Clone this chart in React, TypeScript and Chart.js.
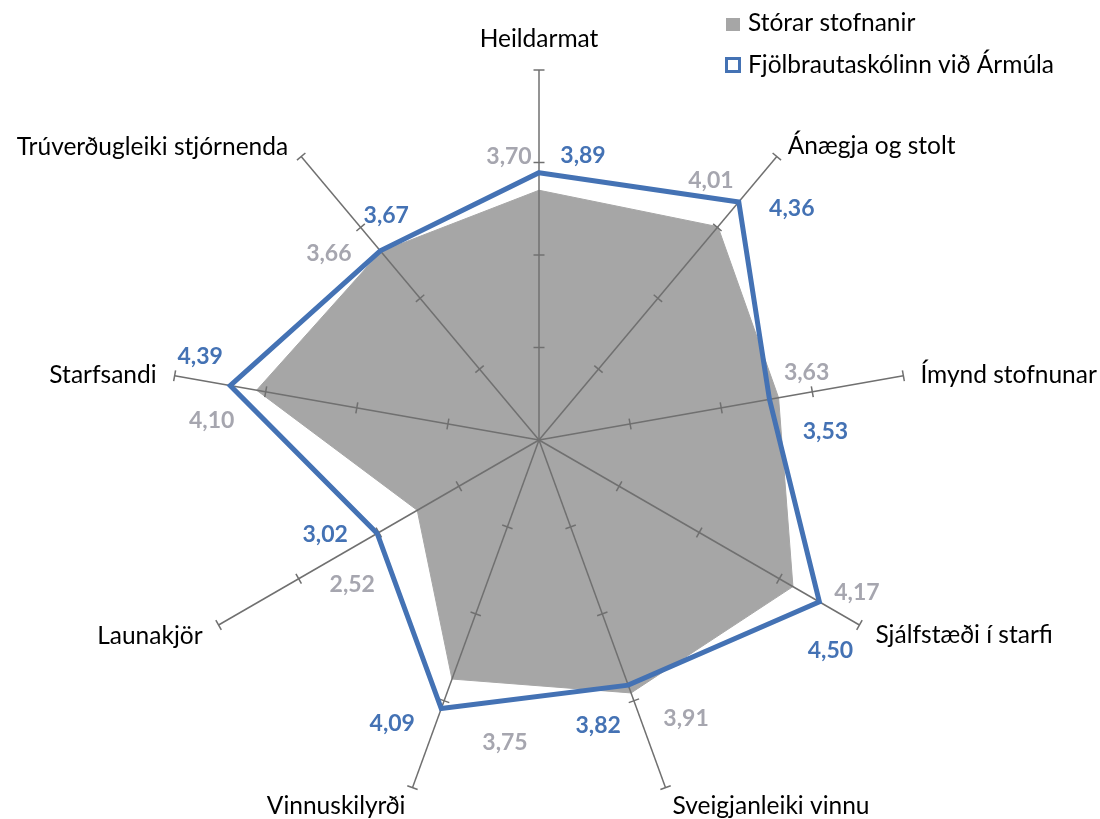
import React, { useEffect, useRef } from 'react';
import { Chart, registerables } from 'chart.js';

Chart.register(...registerables);

// ---- data ----
const categories = [
  'Heildarmat',
  'Ánægja og stolt',
  'Ímynd stofnunar',
  'Sjálfstæði í starfi',
  'Sveigjanleiki vinnu',
  'Vinnuskilyrði',
  'Launakjör',
  'Starfsandi',
  'Trúverðugleiki stjórnenda',
];
const seriesNames = ['Stórar stofnanir', 'Fjölbrautaskólinn við Ármúla'];
const storarValues = [3.7, 4.01, 3.63, 4.17, 3.91, 3.75, 2.52, 4.1, 3.66];
const faValues = [3.89, 4.36, 3.53, 4.5, 3.82, 4.09, 3.02, 4.39, 3.67];
const scaleMin = 1;
const scaleMax = 5;
const scaleStep = 1;

// ---- styles ----
const GREY = '#A6A6A6';
const GREY_TEXT = '#A6A6AF';
const BLUE = '#4472B4';
const AXIS = '#707070';
const FONT_FAMILY = 'Lato, "Open Sans", sans-serif';
const VALUE_SIZE = 23;
const VALUE_WEIGHT = 'bold';
const CAT_SIZE = 24.5;

// label centre offsets relative to each data point
const greyLabelOffsets: [number, number][] = [
  [-30, -35], [-7, -47], [28, -26], [64, 5], [55, 25], [53, 63], [-65, 73], [-45, 30], [-52, 1],
];
const blueLabelOffsets: [number, number][] = [
  [44, -18], [53, 6], [56, 31], [11, 48], [-30, 40], [-49, 14], [-52, 0], [-30, -30], [6, -36],
];
// category label: [align, dx, baseline dy] relative to axis end
const catLabelPlacement: [CanvasTextAlign, number, number][] = [
  ['center', 0, -23],
  ['left', 11, -3],
  ['left', 17, 7],
  ['left', 16, 18],
  ['left', 7, 26],
  ['right', -7, 26],
  ['right', -16, 19],
  ['right', -18, 7],
  ['right', -13, -2],
];

function fmt(v: number) {
  return v.toFixed(2).replace('.', ',');
}

function drawAxes(chart: any) {
  const scale = chart.scales.r;
  const ctx: CanvasRenderingContext2D = chart.ctx;
  ctx.save();
  ctx.strokeStyle = AXIS;
  ctx.lineWidth = 1.5;
  ctx.lineCap = 'butt';
  for (let i = 0; i < categories.length; i++) {
    const c = scale.getPointPositionForValue(i, scaleMin);
    const e = scale.getPointPositionForValue(i, scaleMax);
    ctx.beginPath();
    ctx.moveTo(c.x, c.y);
    ctx.lineTo(e.x, e.y);
    ctx.stroke();
    const a = scale.getIndexAngle(i) - Math.PI / 2;
    const px = -Math.sin(a);
    const py = Math.cos(a);
    for (let v = scaleMin + scaleStep; v <= scaleMax + 1e-9; v += scaleStep) {
      const p = scale.getPointPositionForValue(i, v);
      const h = 5.5;
      ctx.beginPath();
      ctx.moveTo(p.x - px * h, p.y - py * h);
      ctx.lineTo(p.x + px * h, p.y + py * h);
      ctx.stroke();
    }
  }
  ctx.restore();
}

const decor = {
  id: 'radarDecor',
  beforeDatasetDraw(chart: any, args: any) {
    if (args.index === 1) drawAxes(chart);
  },
  afterDatasetsDraw(chart: any) {
    const ctx: CanvasRenderingContext2D = chart.ctx;
    const scale = chart.scales.r;
    ctx.save();
    // value labels
    ctx.font = `${VALUE_WEIGHT} ${VALUE_SIZE}px ${FONT_FAMILY}`;
    ctx.textAlign = 'center';
    ctx.textBaseline = 'alphabetic';
    const capHalf = VALUE_SIZE * 0.72 / 2;
    const sets: [number, string, [number, number][], number[]][] = [
      [0, GREY_TEXT, greyLabelOffsets, storarValues],
      [1, BLUE, blueLabelOffsets, faValues],
    ];
    for (const [di, color, offs, vals] of sets) {
      const meta = chart.getDatasetMeta(di);
      ctx.fillStyle = color;
      meta.data.forEach((el: any, i: number) => {
        ctx.fillText(fmt(vals[i]), el.x + offs[i][0], el.y + offs[i][1] + capHalf);
      });
    }
    // category labels
    ctx.font = `${CAT_SIZE}px ${FONT_FAMILY}`;
    ctx.fillStyle = '#000';
    categories.forEach((lab, i) => {
      const e = scale.getPointPositionForValue(i, scaleMax);
      const [align, dx, dy] = catLabelPlacement[i];
      ctx.textAlign = align;
      ctx.fillText(lab, e.x + dx, e.y + dy);
    });
    // legend
    ctx.textAlign = 'left';
    ctx.fillStyle = GREY;
    ctx.fillRect(726, 18, 14, 13);
    ctx.strokeStyle = BLUE;
    ctx.lineWidth = 3;
    ctx.strokeRect(726.5, 58.5, 13, 13);
    ctx.fillStyle = '#000';
    ctx.fillText(chart.data.datasets[0].label, 748, 31);
    ctx.fillText(chart.data.datasets[1].label, 748, 73);
    ctx.restore();
  },
};

export default function App() {
  const ref = useRef<HTMLCanvasElement>(null);
  useEffect(() => {
    const chart = new Chart(ref.current as HTMLCanvasElement, {
      type: 'radar',
      data: {
        labels: categories,
        datasets: [
          {
            label: seriesNames[0],
            data: storarValues,
            backgroundColor: GREY,
            borderColor: GREY,
            borderWidth: 1,
            fill: true,
            pointRadius: 0,
            order: 2,
          },
          {
            label: seriesNames[1],
            data: faValues,
            borderColor: BLUE,
            backgroundColor: 'rgba(0,0,0,0)',
            borderWidth: 5,
            borderJoinStyle: 'miter',
            fill: false,
            pointRadius: 0,
            order: 1,
          },
        ],
      },
      options: {
        responsive: false,
        animation: false,
        devicePixelRatio: 1,
        layout: { padding: { left: 169, right: 191, top: 70, bottom: 9 } },
        plugins: { legend: { display: false }, tooltip: { enabled: false } },
        elements: { line: { tension: 0 } },
        scales: {
          r: {
            min: scaleMin,
            max: scaleMax,
            ticks: { display: false, stepSize: scaleStep },
            grid: { display: false },
            angleLines: { display: false },
            pointLabels: { display: false },
          },
        },
      } as any,
      plugins: [decor],
    });
    return () => chart.destroy();
  }, []);
  return (
    <div style={{ position: 'fixed', left: 0, top: 0, width: 1100, height: 819, background: '#fff' }}>
      <canvas ref={ref} width={1100} height={819} />
    </div>
  );
}
